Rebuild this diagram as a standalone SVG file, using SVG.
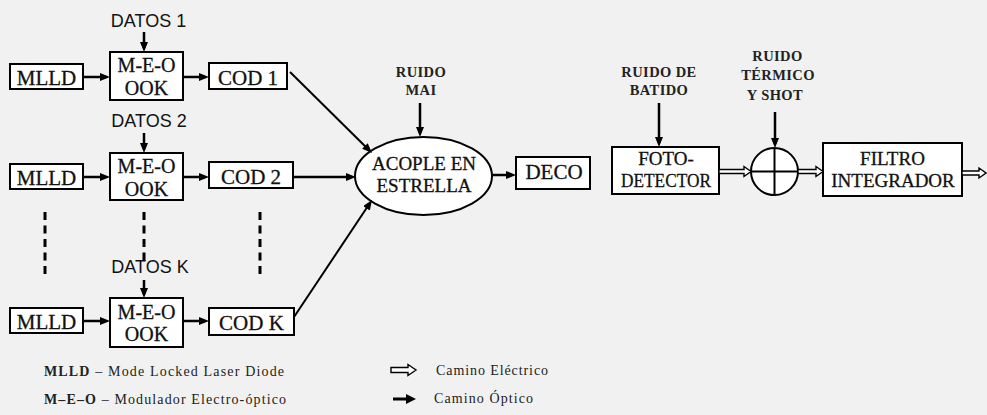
<svg xmlns="http://www.w3.org/2000/svg" width="987" height="415" viewBox="0 0 987 415">
<style>
.bx{fill:#fff;stroke:#000;stroke-width:2}
.lbl{font-family:'Liberation Serif','Times New Roman',serif;font-size:21px;text-anchor:middle;fill:#111;stroke:#111;stroke-width:0.3}
.meo{font-family:'Liberation Serif','Times New Roman',serif;font-size:20px;text-anchor:middle;fill:#111;stroke:#111;stroke-width:0.3}
.lbl19{font-family:'Liberation Serif','Times New Roman',serif;font-size:19px;text-anchor:middle;fill:#111;stroke:#111;stroke-width:0.3}
.dat{font-family:'Liberation Sans',Arial,sans-serif;font-size:18px;text-anchor:middle;fill:#111}
.noise{font-family:'Liberation Serif','Times New Roman',serif;font-size:14.5px;font-weight:bold;text-anchor:middle;fill:#222;letter-spacing:0.4px}
.leg{font-family:'Liberation Serif','Times New Roman',serif;font-size:14px;fill:#222}
.a{stroke:#000;stroke-width:2.5;fill:none;marker-end:url(#ah)}
.d{stroke:#000;stroke-width:2;fill:none;marker-end:url(#ah)}
.h{fill:#fff;stroke:#000;stroke-width:1.4}
.dash{stroke:#000;stroke-width:3;stroke-dasharray:8 5.5}
</style>
<defs>
<marker id="ah" markerWidth="10" markerHeight="8" refX="6" refY="4" orient="auto" markerUnits="userSpaceOnUse">
<path d="M0,0 L10,4 L0,8 Z" fill="#000"/>
</marker>
</defs>
<rect width="987" height="415" fill="#f1f1f1"/>

<g id="datos1"><text class="dat" x="148.5" y="27">DATOS 1</text></g>
<g id="datos2"><text class="dat" x="149" y="127">DATOS 2</text></g>
<g id="datosk"><text class="dat" x="150" y="273">DATOS K</text></g>

<g id="mlld1"><rect class="bx" x="10" y="64" width="73" height="25"/><text class="lbl" x="46.5" y="85">MLLD</text></g>
<g id="meo1"><rect class="bx" x="110" y="52" width="73" height="48"/><text class="meo" x="146.5" y="72">M-E-O</text><text class="meo" x="146.5" y="94.5">OOK</text></g>
<g id="cod1"><rect class="bx" x="209" y="63" width="78" height="26"/><text class="lbl" x="248" y="85">COD 1</text></g>

<g id="mlld2"><rect class="bx" x="10" y="164" width="73" height="25"/><text class="lbl" x="46.5" y="185">MLLD</text></g>
<g id="meo2"><rect class="bx" x="110" y="153" width="73" height="47"/><text class="meo" x="146.5" y="173">M-E-O</text><text class="meo" x="146.5" y="195.5">OOK</text></g>
<g id="cod2"><rect class="bx" x="209" y="162" width="84" height="26"/><text class="lbl" x="251" y="184">COD 2</text></g>

<g id="mlldk"><rect class="bx" x="10" y="308" width="73" height="25"/><text class="lbl" x="46.5" y="329">MLLD</text></g>
<g id="meok"><rect class="bx" x="110" y="298" width="73" height="49"/><text class="meo" x="146.5" y="318.5">M-E-O</text><text class="meo" x="146.5" y="341">OOK</text></g>
<g id="codk"><rect class="bx" x="209" y="308" width="85" height="27"/><text class="lbl" x="251.5" y="330">COD K</text></g>

<g id="acople"><ellipse cx="423.5" cy="176" rx="68.5" ry="39" fill="#fff" stroke="#000" stroke-width="2"/><text class="lbl19" x="424" y="170">ACOPLE EN</text><text class="lbl19" x="424" y="192">ESTRELLA</text></g>
<g id="ruidomai"><text class="noise" x="421" y="77">RUIDO</text><text class="noise" x="421" y="95">MAI</text></g>
<g id="deco"><rect class="bx" x="516" y="157" width="74" height="32"/><text class="lbl" x="554" y="179">DECO</text></g>

<g id="fotodetector"><rect class="bx" x="612" y="147" width="107" height="47"/><text class="lbl19" x="666" y="165">FOTO-</text><text class="lbl19" x="666" y="187" textLength="90" lengthAdjust="spacingAndGlyphs">DETECTOR</text></g>
<g id="ruidobatido"><text class="noise" x="659" y="77">RUIDO DE</text><text class="noise" x="659" y="95">BATIDO</text></g>
<g id="sumador"><circle cx="774.5" cy="171.5" r="23.5" fill="#fff" stroke="#000" stroke-width="2"/><path d="M751,171.5 H798 M774.5,148 V195" stroke="#000" stroke-width="2"/></g>
<g id="ruidotermico"><text class="noise" x="777.5" y="61">RUIDO</text><text class="noise" x="778" y="80">TÉRMICO</text><text class="noise" x="775" y="100">Y SHOT</text></g>
<g id="filtro"><rect class="bx" x="823" y="143" width="139" height="53"/><text class="lbl19" x="892.5" y="165">FILTRO</text><text class="lbl19" x="893" y="187">INTEGRADOR</text></g>

<g id="connectors">
<line class="a" x1="83" y1="77" x2="106" y2="77"/>
<line class="a" x1="183" y1="77" x2="205" y2="77"/>
<line class="a" x1="83" y1="177" x2="106" y2="177"/>
<line class="a" x1="183" y1="177" x2="205" y2="177"/>
<line class="a" x1="83" y1="321" x2="106" y2="321"/>
<line class="a" x1="183" y1="321" x2="205" y2="321"/>
<line class="a" x1="144" y1="32" x2="144" y2="48"/>
<line class="a" x1="144" y1="133" x2="144" y2="149"/>
<line class="a" x1="144" y1="280" x2="144" y2="294"/>
<line class="dash" x1="45" y1="212" x2="45" y2="274"/>
<line class="dash" x1="144" y1="212" x2="144" y2="262"/>
<line class="dash" x1="260" y1="212" x2="260" y2="274"/>
<line class="d" x1="290" y1="72" x2="369.2" y2="150.2"/>
<line class="a" x1="293" y1="177" x2="352" y2="177"/>
<line class="d" x1="294" y1="317" x2="369.8" y2="203.3"/>
<line class="a" x1="420" y1="103" x2="420" y2="133"/>
<line class="a" x1="492" y1="175" x2="512" y2="175"/>
<line class="a" x1="659" y1="103" x2="659" y2="143"/>
<line class="a" x1="775" y1="112" x2="775" y2="144"/>
<path class="h" d="M719,169.5 H744 V166.5 L751,171.5 L744,176.5 V173.5 H719 Z"/>
<path class="h" d="M798,169.5 H816 V166.5 L823,171.5 L816,176.5 V173.5 H798 Z"/>
<path class="h" d="M962,171 H979 V168 L986,173 L979,178 V175 H962 Z"/>
</g>

<g id="legend">
<text class="leg" x="44" y="376" textLength="240" lengthAdjust="spacing"><tspan font-weight="bold">MLLD</tspan> – Mode Locked Laser Diode</text>
<text class="leg" x="44" y="404" textLength="242" lengthAdjust="spacing"><tspan font-weight="bold">M–E–O</tspan> – Modulador Electro-óptico</text>
<path class="h" d="M391,367.5 H408 V364.5 L416,370 L408,375.5 V372.5 H391 Z" stroke-width="1.8"/>
<line x1="393" y1="399" x2="409" y2="399" stroke="#000" stroke-width="3"/>
<path d="M406,394 L416,399 L406,404 Z" fill="#000"/>
<text class="leg" x="436" y="375" textLength="112" lengthAdjust="spacing">Camino Eléctrico</text>
<text class="leg" x="434" y="403" textLength="99" lengthAdjust="spacing">Camino Óptico</text>
</g>
</svg>
